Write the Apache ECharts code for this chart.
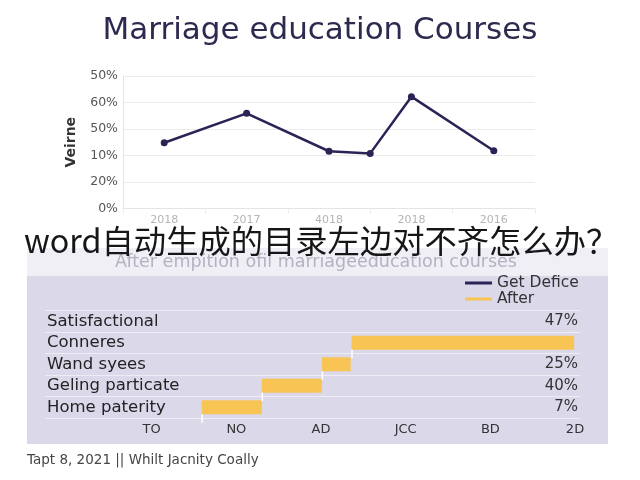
<!DOCTYPE html>
<html>
<head>
<meta charset="utf-8">
<script src="https://cdn.jsdelivr.net/npm/echarts@6/dist/echarts.min.js"></script>
<style>
html,body{margin:0;padding:0;background:#ffffff;}
#chart{width:640px;height:480px;}
</style>
</head>
<body>
<div id="chart"></div>
<script>
// ---- texts ----
const titleText = 'Marriage education Courses';
const overlayText = 'word自动生成的目录左边对不齐怎么办？';
const subtitleText = 'After empition ofil marriageeducation courses';
const captionText = 'Tapt 8, 2021 || Whilt Jacnity Coally';

// ---- top line chart ----
const lineCategories = ['2018', '2017', '4018', '2018', '2016'];
const linePositions = [0, 1, 2, 2.5, 3, 4];
const lineValues = [24.8, 35.9, 21.6, 20.8, 42.2, 21.8];
const lineYTickLabels = ['0%', '20%', '10%', '50%', '60%', '50%'];
const lineYName = 'Veirne';

// ---- bottom bar chart ----
const barCategories = ['Satisfactional', 'Conneres', 'Wand syees', 'Geling particate', 'Home paterity'];
const barStart = [null, 2.36, 2.01, 1.30, 0.59];
const barEnd = [null, 4.99, 2.35, 2.01, 1.30];
const barRightLabels = ['47%', '', '25%', '40%', '7%'];
const barXTickLabels = ['TO', 'NO', 'AD', 'JCC', 'BD', '2D'];
const legendNames = ['Get Defice', 'After'];

const NAVY = '#2a2456';
const YELLOW = '#f8c454';
const FONT = 'DejaVu Sans';

const linePoints = linePositions.map((x, i) => [x, lineValues[i]]);
const barBase = barStart.map(v => (v == null ? '-' : v));
const barLen = barStart.map((v, i) => (v == null ? '-' : +(barEnd[i] - v).toFixed(2)));
const connectorData = [];
barStart.forEach((v, i) => { if (v != null) connectorData.push([v, i]); });

const chart = echarts.init(document.getElementById('chart'), null, {renderer: 'canvas'});
chart.setOption({
  animation: false,
  backgroundColor: '#ffffff',
  textStyle: {fontFamily: FONT},
  graphic: [
    {type: 'rect', z: -1, shape: {x: 27, y: 248, width: 581, height: 28}, style: {fill: '#f0eff6'}},
    {type: 'rect', z: -1, shape: {x: 27, y: 276, width: 581, height: 168}, style: {fill: '#dbd8ea'}}
  ],
  title: [
    {text: titleText, left: 'center', top: 15, padding: 0,
     textStyle: {fontFamily: FONT, fontSize: 31, fontWeight: 'normal', color: '#2d2a50'}},
    {text: subtitleText, left: 316, textAlign: 'center', top: 253, padding: 0,
     textStyle: {fontFamily: FONT, fontSize: 17.5, fontWeight: 'normal', color: '#b4b2c2'}},
    {text: overlayText, left: 24, top: 225, padding: 0, z: 20,
     textStyle: {fontFamily: 'Noto Sans CJK SC', fontSize: 32.3, fontWeight: 'normal', color: '#161616'}},
    {text: captionText, left: 27, top: 453, padding: 0,
     textStyle: {fontFamily: FONT, fontSize: 13.5, fontWeight: 'normal', color: '#454545'}}
  ],
  legend: {
    orient: 'vertical', left: 465, top: 275, padding: 0,
    itemWidth: 27, itemHeight: 3, itemGap: 0,
    textStyle: {fontFamily: FONT, fontSize: 15.5, lineHeight: 15.6, color: '#333'},
    data: [
      {name: legendNames[0], icon: 'rect', itemStyle: {color: NAVY}},
      {name: legendNames[1], icon: 'rect', itemStyle: {color: YELLOW}}
    ]
  },
  grid: [
    {left: 123, right: 105, top: 76, bottom: 271.5},
    {left: 45, right: 60, top: 310.5, bottom: 62},
    {left: 151.7, right: 65, top: 310.5, bottom: 62}
  ],
  xAxis: [
    {type: 'category', gridIndex: 0, data: lineCategories, boundaryGap: true,
     axisLine: {show: true, onZero: false, lineStyle: {color: '#e4e4e4'}},
     axisTick: {show: true, length: 5, lineStyle: {color: '#ececec'}},
     axisLabel: {interval: 0, fontSize: 11, color: '#b5b5b5', margin: 6}},
    {type: 'value', gridIndex: 0, min: -0.5, max: 4.5, show: false},
    {type: 'value', gridIndex: 1, show: false},
    {type: 'value', gridIndex: 2, min: 0, max: 5, interval: 1,
     axisLine: {show: false}, axisTick: {show: false}, splitLine: {show: false},
     axisLabel: {fontSize: 13, color: '#333', margin: 5, hideOverlap: false,
                 formatter: v => barXTickLabels[Math.round(v)] || ''}}
  ],
  yAxis: [
    {type: 'value', gridIndex: 0, min: 0, max: 50, interval: 10,
     name: lineYName, nameLocation: 'middle', nameGap: 45, nameRotate: 90,
     nameTextStyle: {fontFamily: FONT, fontSize: 14, fontWeight: 'bold', color: '#333'},
     axisLine: {show: true, onZero: false, lineStyle: {color: '#e4e4e4'}},
     axisTick: {show: false},
     splitLine: {lineStyle: {color: '#ececec'}},
     axisLabel: {fontSize: 12.5, color: '#555', margin: 5,
                 formatter: v => lineYTickLabels[Math.round(v / 10)]}},
    {type: 'category', gridIndex: 1, data: barCategories, inverse: true, position: 'left',
     axisLine: {show: false}, axisTick: {show: false},
     splitLine: {show: true, interval: 0, lineStyle: {color: '#eeedf6', width: 1}},
     axisLabel: {interval: 0, inside: true, margin: 2, fontSize: 16.5, color: '#222'}},
    {type: 'category', gridIndex: 1, data: barRightLabels, inverse: true, position: 'right',
     axisLine: {show: false}, axisTick: {show: false}, splitLine: {show: false},
     axisLabel: {interval: 0, inside: true, margin: 2, fontSize: 15, color: '#333'}},
    {type: 'category', gridIndex: 2, data: barCategories, inverse: true, show: false}
  ],
  series: [
    {name: legendNames[0], type: 'line', xAxisIndex: 1, yAxisIndex: 0,
     data: linePoints, symbol: 'circle', symbolSize: 7,
     lineStyle: {color: NAVY, width: 2.5}, itemStyle: {color: NAVY}},
    {name: 'base', type: 'bar', xAxisIndex: 3, yAxisIndex: 3, stack: 'w',
     data: barBase, barWidth: 14, itemStyle: {color: 'rgba(0,0,0,0)'}, silent: true},
    {name: legendNames[1], type: 'bar', xAxisIndex: 3, yAxisIndex: 3, stack: 'w',
     data: barLen, barWidth: 14, itemStyle: {color: YELLOW}},
    {name: 'connector', type: 'custom', xAxisIndex: 3, yAxisIndex: 3, silent: true, z: 5,
     data: connectorData, encode: {x: 0, y: 1},
     renderItem: function (params, api) {
       const p = api.coord([api.value(0), api.value(1)]);
       const band = api.size([0, 1])[1];
       return {type: 'line',
               shape: {x1: p[0] + 0.5, y1: p[1] + 7, x2: p[0] + 0.5, y2: p[1] + band - 6},
               style: {stroke: '#ffffff', lineWidth: 1.5}};
     }}
  ]
});
</script>
</body>
</html>
